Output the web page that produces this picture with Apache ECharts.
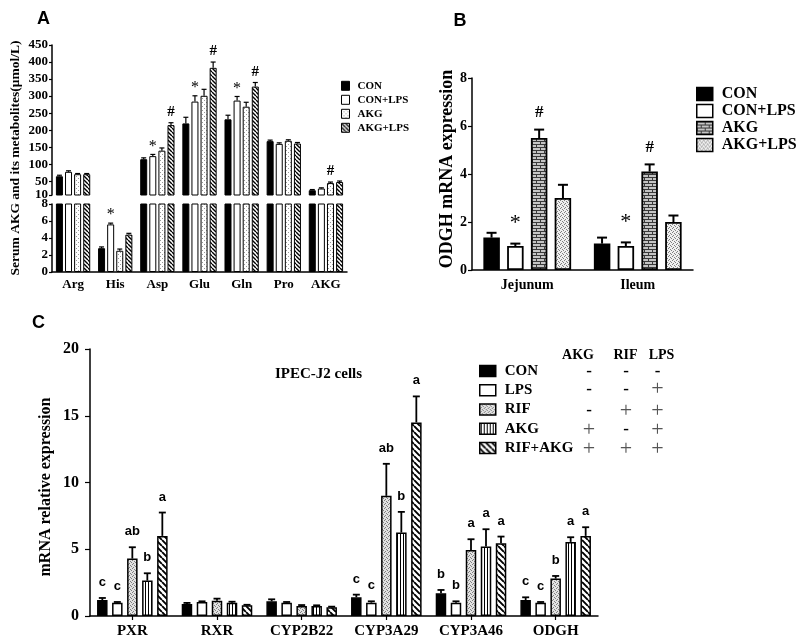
<!DOCTYPE html>
<html><head><meta charset="utf-8">
<script src="https://cdn.jsdelivr.net/npm/echarts@6/dist/echarts.min.js"></script>
<style>html,body{margin:0;padding:0;background:#fff}#c{width:800px;height:642px}</style>
</head><body><div id="c"></div>
<script>
// ---------- Panel A data ----------
const catsA = ['Arg','His','Asp','Glu','Gln','Pro','AKG'];
const namesA = ['CON','CON+LPS','AKG','AKG+LPS'];
const A_CON      = [65, 2.8, 115, 220, 232, 168, 24];
const A_CON_err  = [3, 0.15, 4, 18, 12, 3, 2];
const A_CONLPS     = [78, 5.6, 124, 284, 287, 160, 29];
const A_CONLPS_err = [3, 0.15, 5, 17, 12, 3, 2];
const A_AKG      = [71, 2.5, 140, 301, 269, 169, 45];
const A_AKG_err  = [2, 0.2, 8, 19, 13, 3, 3];
const A_AKGLPS     = [71, 4.4, 215, 383, 328, 161, 48];
const A_AKGLPS_err = [2, 0.15, 7, 17, 12, 3, 3];
const A_CON_sig    = ['', '', '', '', '', '', ''];
const A_CONLPS_sig = ['', '*', '*', '*', '*', '', ''];
const A_AKG_sig    = ['', '', '', '', '', '', '#'];
const A_AKGLPS_sig = ['', '', '#', '#', '#', '', ''];
const A_topTicks = [10, 50, 100, 150, 200, 250, 300, 350, 400, 450];

// ---------- Panel B data ----------
const catsB = ['Jejunum','Ileum'];
const namesB = ['CON','CON+LPS','AKG','AKG+LPS'];
const B_CON = [1.35, 1.1];        const B_CON_err = [0.2, 0.25];
const B_CONLPS = [1.0, 1.0];      const B_CONLPS_err = [0.1, 0.15];
const B_AKG = [5.5, 4.1];         const B_AKG_err = [0.35, 0.3];
const B_AKGLPS = [3.0, 2.0];      const B_AKGLPS_err = [0.55, 0.27];
const B_CON_sig = ['', ''];
const B_CONLPS_sig = ['*', '*'];
const B_AKG_sig = ['#', '#'];
const B_AKGLPS_sig = ['', ''];

// ---------- Panel C data ----------
const catsC = ['PXR','RXR','CYP2B22','CYP3A29','CYP3A46','ODGH'];
const namesC = ['CON','LPS','RIF','AKG','RIF+AKG'];
const C_CON = [1.2, 0.9, 1.1, 1.4, 1.7, 1.2];
const C_CON_err = [0.15, 0.08, 0.15, 0.2, 0.25, 0.2];
const C_LPS = [1.0, 1.05, 1.0, 1.0, 1.0, 1.0];
const C_LPS_err = [0.05, 0.05, 0.05, 0.1, 0.1, 0.05];
const C_RIF = [4.3, 1.15, 0.75, 9.0, 4.95, 2.8];
const C_RIF_err = [0.85, 0.15, 0.07, 2.4, 0.8, 0.2];
const C_AKG = [2.65, 1.0, 0.75, 6.25, 5.2, 5.55];
const C_AKG_err = [0.55, 0.07, 0.05, 1.55, 1.3, 0.35];
const C_RA = [6.0, 0.8, 0.65, 14.5, 5.45, 6.0];
const C_RA_err = [1.75, 0.04, 0.05, 1.95, 0.5, 0.65];
const C_CON_sig = ['c','','','c','b','c'];
const C_LPS_sig = ['c','','','c','b','c'];
const C_RIF_sig = ['ab','','','ab','a','b'];
const C_AKG_sig = ['b','','','b','a','a'];
const C_RA_sig  = ['a','','','a','a','a'];
const tableCols = ['AKG','RIF','LPS'];
const tableMarks = [['-','-','-'],['-','-','+'],['-','+','+'],['+','-','+'],['+','+','+']];

// ---------- patterns ----------
function makePattern(w, h, draw) {
  const c = document.createElement('canvas'); c.width = w; c.height = h;
  const g = c.getContext('2d'); draw(g, w, h);
  return { image: c, repeat: 'repeat' };
}
function diag(s, lw) {
  return makePattern(s, s, g => {
    g.fillStyle = '#fff'; g.fillRect(0, 0, s, s);
    g.strokeStyle = '#000'; g.lineWidth = lw; g.beginPath();
    for (const k of [-s, 0, s]) { g.moveTo(k, 0); g.lineTo(k + s, s); }
    g.stroke();
  });
}
function speckle(bg, dot) {
  return makePattern(4, 4, g => {
    g.fillStyle = bg; g.fillRect(0, 0, 4, 4); g.fillStyle = dot;
    [[0,0],[2,1],[1,3],[3,2]].forEach(p => g.fillRect(p[0], p[1], 1, 1));
  });
}
const patDotsA = makePattern(4, 4, g => { g.fillStyle = '#fff'; g.fillRect(0,0,4,4); g.fillStyle = '#999'; g.fillRect(0,0,1,1); g.fillRect(2,2,1,1); });
const patDiagA = diag(4, 1.4);
const patBrick = makePattern(8, 6, g => { g.fillStyle = '#c4c4c4'; g.fillRect(0,0,8,6); g.fillStyle = '#3a3a3a'; g.fillRect(0,0,8,1); g.fillRect(0,3,8,1); g.fillRect(0,0,1,3); g.fillRect(4,3,1,3); });
const patFineB = speckle('#f0f0f0', '#808080');
const patFineC = speckle('#e2e2e2', '#808080');
const patVert = makePattern(3, 1, g => { g.fillStyle = '#fff'; g.fillRect(0,0,3,1); g.fillStyle = '#000'; g.fillRect(1,0,1,1); });
const patDiagC = diag(6, 1.9);

const SERIF = 'Liberation Serif';
const SANS = 'Liberation Sans';
const strip = n => n.replace(/\u200b/g, '');

// ---------- helpers ----------
function buildItems(vals, errs, sigs, keep) {
  const out = [];
  vals.forEach((arr, s) => arr.forEach((v, c) => {
    if (keep(v, errs[s][c])) out.push({ c, s, v, e: errs[s][c], t: sigs[s][c] });
  }));
  return out;
}
function errSeries(xi, yi, items, cfg) {
  return {
    type: 'custom', xAxisIndex: xi, yAxisIndex: yi, silent: true, z: 5,
    data: items.map(d => [d.c, d.v, d.e, d.s]),
    encode: { x: 0, y: 1 },
    renderItem: (params, api) => {
      const d = items[params.dataIndex];
      const base = api.coord([d.c, d.v]);
      const top = api.coord([d.c, d.v + d.e]);
      const x = base[0] + (d.s - (cfg.n - 1) / 2) * cfg.pitch;
      const ch = [];
      if (d.e > 0) {
        ch.push({ type: 'line', shape: { x1: x, y1: base[1], x2: x, y2: top[1] }, style: { stroke: '#000', lineWidth: cfg.lw } });
        ch.push({ type: 'line', shape: { x1: x - cfg.cap, y1: top[1], x2: x + cfg.cap, y2: top[1] }, style: { stroke: '#000', lineWidth: cfg.lw } });
      }
      if (d.t) {
        const f = cfg.font(d.t);
        ch.push({ type: 'text', x: x, y: top[1] - f.gap, style: { text: d.t, fontSize: f.size, fontFamily: f.family, fontWeight: f.weight, fill: '#000', align: 'center', verticalAlign: 'bottom', textAlign: 'center', textVerticalAlign: 'bottom' } });
      }
      return { type: 'group', children: ch };
    }
  };
}
function catAxis(gi, data, fs, margin, opts) {
  return Object.assign({
    type: 'category', gridIndex: gi, data: data,
    axisLine: { show: true, lineStyle: { color: '#000', width: 1.5 } },
    axisTick: { show: false },
    axisLabel: { color: '#000', fontFamily: SERIF, fontWeight: 'bold', fontSize: fs, margin: margin, interval: 0 },
    splitLine: { show: false }
  }, opts || {});
}
function valAxis(gi, min, max, interval, fs, margin, tickLen, extra) {
  return Object.assign({
    type: 'value', gridIndex: gi, min: min, max: max, interval: interval,
    axisLine: { show: true, lineStyle: { color: '#000', width: 1.5 } },
    axisTick: { show: true, length: tickLen, lineStyle: { color: '#000', width: 1.2 } },
    axisLabel: { color: '#000', fontFamily: SERIF, fontWeight: 'bold', fontSize: fs, margin: margin },
    splitLine: { show: false }
  }, extra || {});
}

// ---------- series ----------
const series = [];
const A_vals = [A_CON, A_CONLPS, A_AKG, A_AKGLPS];
const A_errs = [A_CON_err, A_CONLPS_err, A_AKG_err, A_AKGLPS_err];
const A_sigs = [A_CON_sig, A_CONLPS_sig, A_AKG_sig, A_AKGLPS_sig];
const fillsA = ['#000', '#fff', patDotsA, patDiagA];
namesA.forEach((n, i) => {
  const st = { color: fillsA[i], borderColor: '#000', borderWidth: 1 };
  series.push({ type: 'bar', name: n, xAxisIndex: 0, yAxisIndex: 0, data: A_vals[i].map(v => v > 10 ? v : '-'), barWidth: 7, barGap: '30%', itemStyle: st, clip: true });
  series.push({ type: 'bar', name: n, xAxisIndex: 1, yAxisIndex: 1, data: A_vals[i], barWidth: 7, barGap: '30%', itemStyle: st, clip: true });
});
const fontA = t => t === '*' ? { size: 16, family: SERIF, weight: 'normal', gap: 0 } : { size: 15, family: SERIF, weight: 'bold', gap: 3 };
const cfgA = { n: 4, pitch: 9.1, lw: 1.2, cap: 2.5, font: fontA };
series.push(errSeries(0, 0, buildItems(A_vals, A_errs, A_sigs, (v, e) => v > 10), cfgA));
series.push(errSeries(1, 1, buildItems(A_vals, A_errs, A_sigs, (v, e) => v + e <= 8), cfgA));

const B_vals = [B_CON, B_CONLPS, B_AKG, B_AKGLPS];
const B_errs = [B_CON_err, B_CONLPS_err, B_AKG_err, B_AKGLPS_err];
const B_sigs = [B_CON_sig, B_CONLPS_sig, B_AKG_sig, B_AKGLPS_sig];
const fillsB = ['#000', '#fff', patBrick, patFineB];
namesB.forEach((n, i) => {
  series.push({ type: 'bar', name: n + '\u200b', xAxisIndex: 2, yAxisIndex: 2, data: B_vals[i], barWidth: 16.5, barGap: '44%', itemStyle: { color: fillsB[i], borderColor: '#000', borderWidth: 1.8 } });
});
const fontB = t => t === '*' ? { size: 22, family: SERIF, weight: 'normal', gap: 9 } : { size: 17, family: SERIF, weight: 'bold', gap: 8 };
series.push(errSeries(2, 2, buildItems(B_vals, B_errs, B_sigs, () => true), { n: 4, pitch: 23.8, lw: 2, cap: 5, font: fontB }));

const C_vals = [C_CON, C_LPS, C_RIF, C_AKG, C_RA];
const C_errs = [C_CON_err, C_LPS_err, C_RIF_err, C_AKG_err, C_RA_err];
const C_sigs = [C_CON_sig, C_LPS_sig, C_RIF_sig, C_AKG_sig, C_RA_sig];
const fillsC = ['#000', '#fff', patFineC, patVert, patDiagC];
namesC.forEach((n, i) => {
  series.push({ type: 'bar', name: n + '\u200b\u200b', xAxisIndex: 3, yAxisIndex: 3, data: C_vals[i], barWidth: 10.5, barGap: '43%', itemStyle: { color: fillsC[i], borderColor: '#000', borderWidth: 1.5 } });
});
const fontC = t => ({ size: 13, family: SANS, weight: 'bold', gap: 9 });
series.push(errSeries(3, 3, buildItems(C_vals, C_errs, C_sigs, () => true), { n: 5, pitch: 15, lw: 1.8, cap: 3.5, font: fontC }));

// ---------- graphic texts ----------
function txt(x, y, text, size, family, weight, extra) {
  return Object.assign({ type: 'text', x: x, y: y, silent: true,
    style: Object.assign({ text: text, fontSize: size, fontFamily: family, fontWeight: weight, fill: '#000', align: 'center', verticalAlign: 'middle', textAlign: 'center', textVerticalAlign: 'middle' }, (extra && extra.style) || {}) },
    extra && extra.rotation ? { rotation: extra.rotation } : {});
}
const graphic = [
  txt(43.5, 19, 'A', 18, SANS, 'bold'),
  txt(460, 21.5, 'B', 18, SANS, 'bold'),
  txt(38.5, 323.5, 'C', 18, SANS, 'bold'),
  txt(16, 158, 'Serum AKG and its metabolites(\u03bcmol/L)', 13.5, SERIF, 'bold', { rotation: Math.PI / 2 }),
  txt(447, 169, 'ODGH mRNA expression', 18, SERIF, 'bold', { rotation: Math.PI / 2 }),
  txt(46, 487, 'mRNA relative expression', 16, SERIF, 'bold', { rotation: Math.PI / 2 }),
  txt(275, 374, 'IPEC-J2 cells', 15, SERIF, 'bold', { style: { align: 'left', textAlign: 'left' } })
];
const headX = [578, 625.5, 661.5];
const markX = [589, 626, 657.5];
const rowY = [371.5, 389.5, 411, 430, 449];
tableCols.forEach((t, i) => graphic.push(txt(headX[i], 355, t, 14, SERIF, 'bold')));
tableMarks.forEach((row, r) => row.forEach((m, c) => {
  if (m === '+') graphic.push(txt(markX[c], rowY[r], '+', 22, SERIF, 'normal', { style: { fill: '#555' } }));
  else graphic.push(txt(markX[c], rowY[r], '-', 17, SERIF, 'bold'));
}));

function legend(names, left, top, iw, ih, gap, fs, bw, pad) {
  return {
    data: names, orient: 'vertical', left: left, top: top, padding: 0,
    itemWidth: iw, itemHeight: ih, itemGap: gap, icon: 'rect', selectedMode: false,
    itemStyle: { borderColor: '#000', borderWidth: bw },
    textStyle: { fontFamily: SERIF, fontWeight: 'bold', fontSize: fs, color: '#000', padding: [0, 0, 0, pad] },
    formatter: strip
  };
}

const option = {
  animation: false,
  backgroundColor: '#fff',
  grid: [
    { left: 52, top: 45, width: 295, height: 150 },
    { left: 52, top: 204, width: 295, height: 68 },
    { left: 472, top: 78, width: 221, height: 192 },
    { left: 90, top: 349, width: 508, height: 267 }
  ],
  xAxis: [
    catAxis(0, catsA, 13, 6, { axisLine: { show: false }, axisLabel: { show: false } }),
    catAxis(1, catsA, 13, 6),
    catAxis(2, catsB, 14, 8),
    catAxis(3, catsC, 15, 8, { axisTick: { show: true, alignWithLabel: true, length: 4, lineStyle: { color: '#000', width: 1.2 } } })
  ],
  yAxis: [
    valAxis(0, 10, 450, 10, 13, 4, 3, {
      axisLabel: { color: '#000', fontFamily: SERIF, fontWeight: 'bold', fontSize: 13, margin: 4, customValues: A_topTicks },
      axisTick: { show: true, length: 3, lineStyle: { color: '#000', width: 1.2 }, customValues: A_topTicks }
    }),
    valAxis(1, 0, 8, 2, 13, 4, 3),
    valAxis(2, 0, 8, 2, 14, 5, 4),
    valAxis(3, 0, 20, 5, 16, 11, 5)
  ],
  legend: [
    legend(namesA, 341, 80.3, 8, 9, 3, 11, 1, 3),
    legend(namesB.map(n => n + '\u200b'), 696, 86, 16, 13, 1, 16, 1.5, 4),
    legend(namesC.map(n => n + '\u200b\u200b'), 479, 363.5, 16, 11, 4.25, 15, 1.5, 4)
  ],
  graphic: graphic,
  series: series
};
const chart = echarts.init(document.getElementById('c'), null, { renderer: 'canvas' });
chart.setOption(option);
</script>
</body></html>
